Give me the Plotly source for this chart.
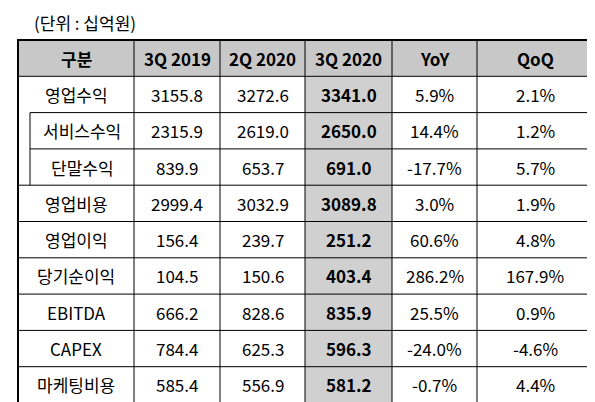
import plotly.graph_objects as go

W, H = 595, 402

headers = ['구분', '3Q 2019', '2Q 2020', '3Q 2020', 'YoY', 'QoQ']
items = ['영업수익', '서비스수익', '단말수익', '영업비용', '영업이익',
         '당기순이익', 'EBITDA', 'CAPEX', '마케팅비용']
q3_2019 = ['3155.8', '2315.9', '839.9', '2999.4', '156.4', '104.5', '666.2', '784.4', '585.4']
q2_2020 = ['3272.6', '2619.0', '653.7', '3032.9', '239.7', '150.6', '828.6', '625.3', '556.9']
q3_2020 = ['3341.0', '2650.0', '691.0', '3089.8', '251.2', '403.4', '835.9', '596.3', '581.2']
yoy = ['5.9%', '14.4%', '-17.7%', '3.0%', '60.6%', '286.2%', '25.5%', '-24.0%', '-0.7%']
qoq = ['2.1%', '1.2%', '5.7%', '1.9%', '4.8%', '167.9%', '0.9%', '-4.6%', '4.4%']

col_edges = [10, 126, 212, 297, 384, 469, 585]
row_top = 32
row_h = 36.3
sub_rows = [1, 2]          # indented rows under 영업수익
indent = 22

font = 'Noto Sans CJK KR'
columns = [items, q3_2019, q2_2020, q3_2020, yoy, qoq]

fig = go.Figure()
shapes = []
n_rows = len(items) + 1


def ry(i):
    return row_top + row_h * i


# header fill and highlighted column
shapes.append(dict(type='rect', x0=col_edges[0], x1=col_edges[-1], y0=ry(0), y1=ry(1),
                   fillcolor='#c8c8c8', line=dict(width=0), layer='below'))
shapes.append(dict(type='rect', x0=col_edges[3], x1=col_edges[4], y0=ry(1), y1=ry(n_rows),
                   fillcolor='#d0d0d0', line=dict(width=0), layer='below'))

# horizontal lines
for i in range(1, n_rows):
    left = col_edges[0]
    if i in (2, 3):
        left = indent
    shapes.append(dict(type='line', x0=left, x1=col_edges[-1], y0=ry(i), y1=ry(i),
                       line=dict(color='black', width=1)))
# vertical lines
for x in col_edges[1:-1]:
    shapes.append(dict(type='line', x0=x, x1=x, y0=ry(0), y1=ry(n_rows),
                       line=dict(color='black', width=1)))
shapes.append(dict(type='line', x0=indent, x1=indent, y0=ry(2), y1=ry(4),
                   line=dict(color='black', width=1)))
# outer frame
shapes.append(dict(type='rect', x0=col_edges[0], x1=col_edges[-1], y0=ry(0), y1=ry(n_rows),
                   line=dict(color='black', width=2)))

annotations = []
for c, h in enumerate(headers):
    annotations.append(dict(x=(col_edges[c] + col_edges[c + 1]) / 2, y=ry(0.5),
                            text='<b>%s</b>' % h))
for c, col in enumerate(columns):
    for r, v in enumerate(col):
        left = indent if (c == 0 and r in sub_rows) else col_edges[c]
        annotations.append(dict(x=(left + col_edges[c + 1]) / 2, y=ry(r + 1.5),
                                text='<b>%s</b>' % v if c == 3 else v))
for a in annotations:
    a.update(showarrow=False, xanchor='center', yanchor='middle',
             font=dict(family=font, size=17, color='black'))
annotations.append(dict(x=24, y=14, text='(단위 : 십억원)', showarrow=False,
                        xanchor='left', yanchor='middle',
                        font=dict(family=font, size=17, color='black')))

fig.update_layout(
    width=W, height=H, margin=dict(l=0, r=0, t=0, b=0),
    paper_bgcolor='white', plot_bgcolor='white',
    xaxis=dict(range=[0, W], visible=False, fixedrange=True),
    yaxis=dict(range=[H, 0], visible=False, fixedrange=True),
    shapes=shapes, annotations=annotations, showlegend=False,
)

fig.write_html('out.html')
